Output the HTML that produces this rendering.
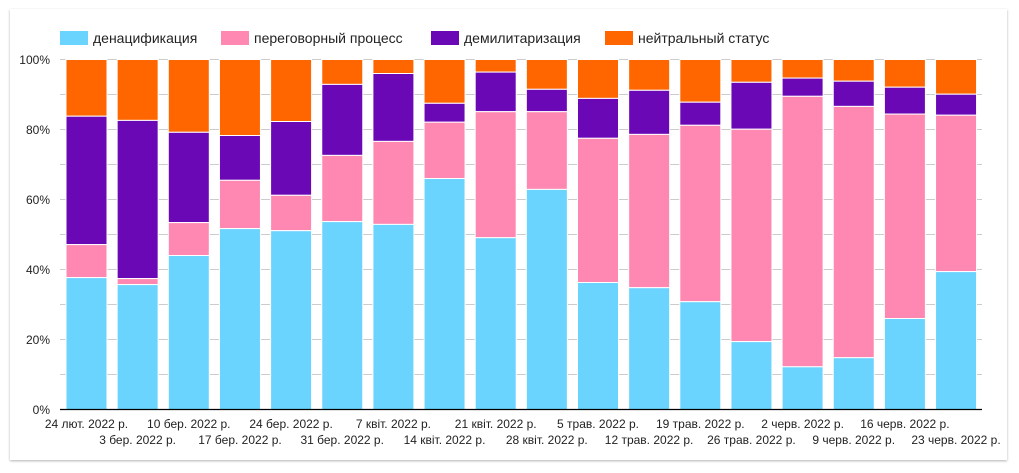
<!DOCTYPE html>
<html><head><meta charset="utf-8"><style>
body{margin:0;background:#fff;}
svg{display:block;font-family:"Liberation Sans",Arial,sans-serif;}
</style></head><body>
<svg width="1019" height="473" viewBox="0 0 1019 473" xmlns="http://www.w3.org/2000/svg">
<defs><filter id="sh" x="-5%" y="-5%" width="110%" height="115%"><feDropShadow dx="0" dy="1" stdDeviation="1.2" flood-color="#000" flood-opacity="0.3"/></filter></defs>
<rect x="10" y="9" width="997" height="451" fill="#fff" filter="url(#sh)"/>
<g font-size="14" fill="#222">
<rect x="60" y="31" width="28" height="14" fill="#6ad4ff"/><text x="93" y="43">денацификация</text>
<rect x="221" y="31" width="28" height="14" fill="#ff88b2"/><text x="254" y="43">переговорный процесс</text>
<rect x="431" y="31" width="28" height="14" fill="#6a08b5"/><text x="464" y="43">демилитаризация</text>
<rect x="605" y="31" width="28" height="14" fill="#ff6600"/><text x="638" y="43">нейтральный статус</text>
</g>
<g stroke="#ccc" stroke-width="1">
<line x1="60" x2="982" y1="59.5" y2="59.5"/><line x1="60" x2="982" y1="94.5" y2="94.5"/><line x1="60" x2="982" y1="129.5" y2="129.5"/><line x1="60" x2="982" y1="164.5" y2="164.5"/><line x1="60" x2="982" y1="199.5" y2="199.5"/><line x1="60" x2="982" y1="234.5" y2="234.5"/><line x1="60" x2="982" y1="269.5" y2="269.5"/><line x1="60" x2="982" y1="304.5" y2="304.5"/><line x1="60" x2="982" y1="339.5" y2="339.5"/><line x1="60" x2="982" y1="374.5" y2="374.5"/>
</g>
<g font-size="12" fill="#222" text-anchor="end">
<text x="50" y="64">100%</text><text x="50" y="134">80%</text><text x="50" y="204">60%</text><text x="50" y="274">40%</text><text x="50" y="344">20%</text><text x="50" y="414">0%</text>
</g>
<g stroke="#fff" stroke-width="1">
<g transform="translate(66,0)"><rect width="41" y="59.5" height="56.7" fill="#ff6600"/><rect width="41" y="116.2" height="128.4" fill="#6a08b5"/><rect width="41" y="244.6" height="33" fill="#ff88b2"/><rect width="41" y="277.6" height="131.9" fill="#6ad4ff"/></g>
<g transform="translate(117.15,0)"><rect width="41" y="59.5" height="60.9" fill="#ff6600"/><rect width="41" y="120.4" height="158.2" fill="#6a08b5"/><rect width="41" y="278.6" height="6" fill="#ff88b2"/><rect width="41" y="284.6" height="124.9" fill="#6ad4ff"/></g>
<g transform="translate(168.3,0)"><rect width="41" y="59.5" height="72.8" fill="#ff6600"/><rect width="41" y="132.3" height="90.3" fill="#6a08b5"/><rect width="41" y="222.6" height="32.9" fill="#ff88b2"/><rect width="41" y="255.5" height="154" fill="#6ad4ff"/></g>
<g transform="translate(219.45,0)"><rect width="41" y="59.5" height="76" fill="#ff6600"/><rect width="41" y="135.5" height="44.8" fill="#6a08b5"/><rect width="41" y="180.3" height="48.3" fill="#ff88b2"/><rect width="41" y="228.6" height="180.9" fill="#6ad4ff"/></g>
<g transform="translate(270.6,0)"><rect width="41" y="59.5" height="62" fill="#ff6600"/><rect width="41" y="121.5" height="73.8" fill="#6a08b5"/><rect width="41" y="195.3" height="35.4" fill="#ff88b2"/><rect width="41" y="230.7" height="178.8" fill="#6ad4ff"/></g>
<g transform="translate(321.75,0)"><rect width="41" y="59.5" height="24.9" fill="#ff6600"/><rect width="41" y="84.4" height="71" fill="#6a08b5"/><rect width="41" y="155.4" height="66.2" fill="#ff88b2"/><rect width="41" y="221.6" height="187.9" fill="#6ad4ff"/></g>
<g transform="translate(372.9,0)"><rect width="41" y="59.5" height="14" fill="#ff6600"/><rect width="41" y="73.5" height="67.9" fill="#6a08b5"/><rect width="41" y="141.4" height="83" fill="#ff88b2"/><rect width="41" y="224.4" height="185.1" fill="#6ad4ff"/></g>
<g transform="translate(424.05,0)"><rect width="41" y="59.5" height="43.8" fill="#ff6600"/><rect width="41" y="103.3" height="18.9" fill="#6a08b5"/><rect width="41" y="122.2" height="56.3" fill="#ff88b2"/><rect width="41" y="178.5" height="231" fill="#6ad4ff"/></g>
<g transform="translate(475.2,0)"><rect width="41" y="59.5" height="12.6" fill="#ff6600"/><rect width="41" y="72.1" height="39.6" fill="#6a08b5"/><rect width="41" y="111.7" height="126" fill="#ff88b2"/><rect width="41" y="237.7" height="171.8" fill="#6ad4ff"/></g>
<g transform="translate(526.35,0)"><rect width="41" y="59.5" height="29.8" fill="#ff6600"/><rect width="41" y="89.3" height="22.4" fill="#6a08b5"/><rect width="41" y="111.7" height="77.7" fill="#ff88b2"/><rect width="41" y="189.4" height="220.1" fill="#6ad4ff"/></g>
<g transform="translate(577.5,0)"><rect width="41" y="59.5" height="38.9" fill="#ff6600"/><rect width="41" y="98.4" height="39.9" fill="#6a08b5"/><rect width="41" y="138.3" height="144.2" fill="#ff88b2"/><rect width="41" y="282.5" height="127" fill="#6ad4ff"/></g>
<g transform="translate(628.65,0)"><rect width="41" y="59.5" height="30.8" fill="#ff6600"/><rect width="41" y="90.3" height="44.1" fill="#6a08b5"/><rect width="41" y="134.4" height="153.3" fill="#ff88b2"/><rect width="41" y="287.7" height="121.8" fill="#6ad4ff"/></g>
<g transform="translate(679.8,0)"><rect width="41" y="59.5" height="42.7" fill="#ff6600"/><rect width="41" y="102.2" height="23.1" fill="#6a08b5"/><rect width="41" y="125.3" height="176.4" fill="#ff88b2"/><rect width="41" y="301.7" height="107.8" fill="#6ad4ff"/></g>
<g transform="translate(730.95,0)"><rect width="41" y="59.5" height="22.8" fill="#ff6600"/><rect width="41" y="82.3" height="46.9" fill="#6a08b5"/><rect width="41" y="129.2" height="212.4" fill="#ff88b2"/><rect width="41" y="341.6" height="67.9" fill="#6ad4ff"/></g>
<g transform="translate(782.1,0)"><rect width="41" y="59.5" height="18.6" fill="#ff6600"/><rect width="41" y="78.1" height="18.2" fill="#6a08b5"/><rect width="41" y="96.3" height="270.5" fill="#ff88b2"/><rect width="41" y="366.8" height="42.7" fill="#6ad4ff"/></g>
<g transform="translate(833.25,0)"><rect width="41" y="59.5" height="21.7" fill="#ff6600"/><rect width="41" y="81.2" height="25.2" fill="#6a08b5"/><rect width="41" y="106.4" height="251.3" fill="#ff88b2"/><rect width="41" y="357.7" height="51.8" fill="#6ad4ff"/></g>
<g transform="translate(884.4,0)"><rect width="41" y="59.5" height="27.7" fill="#ff6600"/><rect width="41" y="87.2" height="26.9" fill="#6a08b5"/><rect width="41" y="114.1" height="204.4" fill="#ff88b2"/><rect width="41" y="318.5" height="91" fill="#6ad4ff"/></g>
<g transform="translate(935.55,0)"><rect width="41" y="59.5" height="34.7" fill="#ff6600"/><rect width="41" y="94.2" height="21" fill="#6a08b5"/><rect width="41" y="115.2" height="156.4" fill="#ff88b2"/><rect width="41" y="271.6" height="137.9" fill="#6ad4ff"/></g>
</g>
<line x1="60" x2="982" y1="409.5" y2="409.5" stroke="#000" stroke-width="1.3"/>
<g font-size="12" fill="#222" text-anchor="middle">
<text x="86.5" y="428">24 лют. 2022 р.</text>
<text x="137.6" y="444">3 бер. 2022 р.</text>
<text x="188.8" y="428">10 бер. 2022 р.</text>
<text x="240" y="444">17 бер. 2022 р.</text>
<text x="291.1" y="428">24 бер. 2022 р.</text>
<text x="342.2" y="444">31 бер. 2022 р.</text>
<text x="393.4" y="428">7 квіт. 2022 р.</text>
<text x="444.5" y="444">14 квіт. 2022 р.</text>
<text x="495.7" y="428">21 квіт. 2022 р.</text>
<text x="546.8" y="444">28 квіт. 2022 р.</text>
<text x="598" y="428">5 трав. 2022 р.</text>
<text x="649.1" y="444">12 трав. 2022 р.</text>
<text x="700.3" y="428">19 трав. 2022 р.</text>
<text x="751.4" y="444">26 трав. 2022 р.</text>
<text x="802.6" y="428">2 черв. 2022 р.</text>
<text x="853.7" y="444">9 черв. 2022 р.</text>
<text x="904.9" y="428">16 черв. 2022 р.</text>
<text x="956" y="444">23 черв. 2022 р.</text>
</g>
</svg>
</body></html>
